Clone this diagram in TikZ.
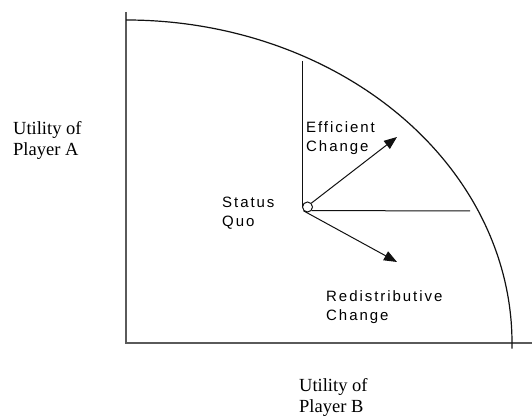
\documentclass[tikz,border=0pt]{standalone}
\usepackage{fontspec}
\setmainfont{Liberation Serif}
\newfontfamily\lblfont[LetterSpace=13]{Liberation Sans}
\usepackage{xcolor}
\definecolor{Ink}{HTML}{111111}
\definecolor{AxisGray}{HTML}{5A5A5A}
\usepackage{tikz}
\usetikzlibrary{arrows.meta,positioning}
\tikzset{
  axisline/.style={draw=AxisGray,line width=1.1pt},
  frontier/.style={draw=Ink,line width=1.2pt},
  guide/.style={draw=Ink,line width=1pt},
  change/.style={-{Triangle[length=13pt,width=10pt]},line width=1pt,color=Ink},
  sqdot/.style={circle,draw=Ink,fill=white,line width=1pt,minimum size=10pt,inner sep=0pt},
  axislabel/.style={anchor=base west,inner sep=0pt,align=left,
    font=\fontsize{18.5}{21.5}\selectfont},
  pointlabel/.style={anchor=base west,inner sep=0pt,align=left,
    font=\lblfont\fontsize{15}{19}\selectfont}
}
\begin{document}
\begin{tikzpicture}[x=1pt,y=1pt]
  \useasboundingbox (0,0) rectangle (532,415);
  \coordinate (origin) at (126,72);
  \coordinate (ytop) at (126,403);
  \coordinate (xend) at (532,72);
  \coordinate (fronttop) at (126,395);
  \draw[axisline] (ytop) -- (origin) -- (xend);
  \draw[frontier] (fronttop) arc[start angle=90,end angle=-1,x radius=386pt,y radius=323pt];

  \node[sqdot] (quo) at (307.5,208) {};
  \coordinate (vtop) at (302,354);
  \coordinate (hend) at (470,204);
  \coordinate (efftip) at (397,278);
  \coordinate (redtip) at (397,153);
  \draw[guide] (vtop) -- (quo.west);
  \draw[guide] (quo.-40) -- (hend);
  \draw[change] (quo.north east) -- (efftip);
  \draw[change] (quo.south west) -- (redtip);

  \node[axislabel] (ylabel) at (13,259) {Utility of\\Player A};
  \node[axislabel] (xlabel) at (299,2.5) {Utility of\\Player B};
  \node[pointlabel] (sqlabel) at (222,188) {Status\\Quo};
  \node[pointlabel] (efflabel) at (306,263) {Efficient\\Change};
  \node[pointlabel] (redlabel) at (326,95) {Redistributive\\Change};
\end{tikzpicture}
\end{document}
